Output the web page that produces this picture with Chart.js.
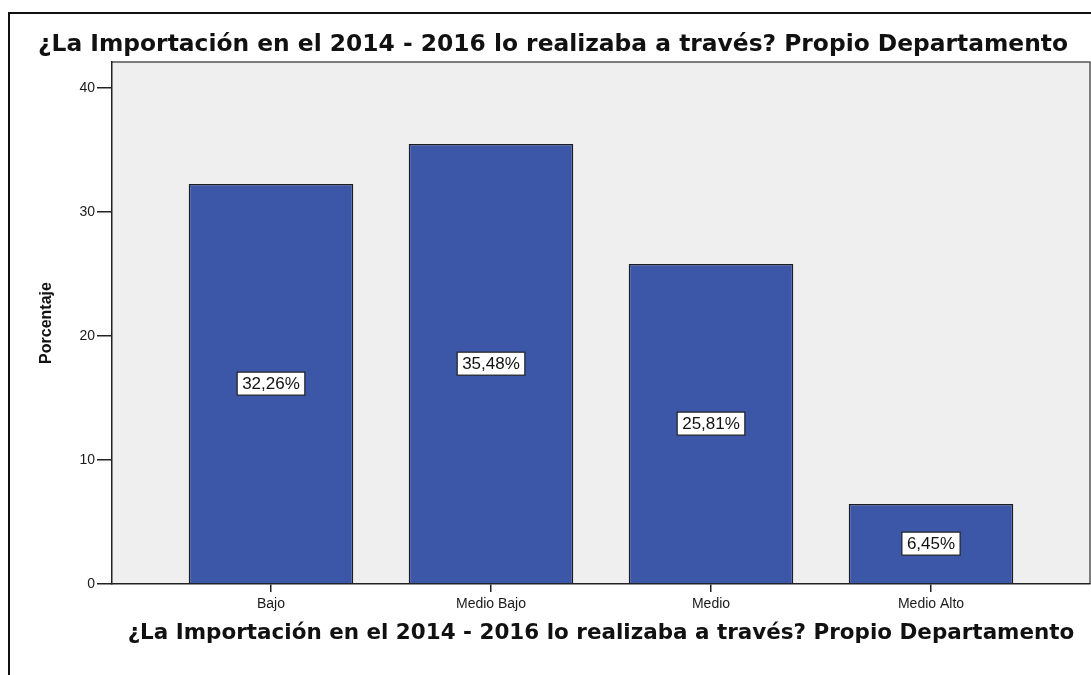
<!DOCTYPE html>
<html>
<head>
<meta charset="utf-8">
<script src="https://cdn.jsdelivr.net/npm/chart.js@4.4.1/dist/chart.umd.min.js"></script>
<style>
  html, body { margin: 0; padding: 0; background: #fff; }
  #wrap { width: 1091px; height: 675px; position: relative; }
</style>
</head>
<body>
<div id="wrap"><canvas id="chart"></canvas></div>
<script>
const categories = ['Bajo', 'Medio Bajo', 'Medio', 'Medio Alto'];
const values = [32.26, 35.48, 25.81, 6.45];
const valueLabels = ['32,26%', '35,48%', '25,81%', '6,45%'];
const yTicks = [0, 10, 20, 30, 40];
const titleText = '¿La Importación en el 2014 - 2016 lo realizaba a través? Propio Departamento';

// fit a font size so the text spans a given width
function fitSize(text, family, weight, width) {
  const c = document.createElement('canvas').getContext('2d');
  c.font = weight + ' 100px ' + family;
  return 100 * width / c.measureText(text).width;
}
const topTitleSize = fitSize(titleText, '"DejaVu Sans"', 'bold', 1030);
const xTitleSize = fitSize(titleText, '"DejaVu Sans"', 'bold', 947);

const spssFrame = {
  id: 'spssFrame',
  beforeDraw(chart) {
    const { ctx, chartArea: a } = chart;
    ctx.save();
    ctx.fillStyle = '#efefef';
    ctx.fillRect(a.left, a.top, a.right - a.left, a.bottom - a.top);
    ctx.strokeStyle = '#555';
    ctx.lineWidth = 1.5;
    ctx.beginPath();
    ctx.moveTo(a.left, a.top); ctx.lineTo(a.right, a.top); ctx.lineTo(a.right, a.bottom);
    ctx.stroke();
    // outer frame
    ctx.strokeStyle = '#111';
    ctx.lineWidth = 2;
    ctx.beginPath();
    ctx.moveTo(9, 676); ctx.lineTo(9, 13); ctx.lineTo(1092, 13);
    ctx.stroke();
    // title
    ctx.fillStyle = '#111';
    ctx.font = 'bold ' + topTitleSize.toFixed(2) + 'px "DejaVu Sans"';
    ctx.textAlign = 'center';
    ctx.textBaseline = 'middle';
    ctx.fillText(titleText, 553, 45);
    ctx.restore();
  },
  afterDatasetsDraw(chart) {
    const { ctx } = chart;
    const meta = chart.getDatasetMeta(0);
    ctx.save();
    ctx.font = '17px "Liberation Sans"';
    ctx.textAlign = 'center';
    ctx.textBaseline = 'middle';
    meta.data.forEach((bar, i) => {
      const cy = (bar.y + bar.base) / 2;
      const w = ctx.measureText(valueLabels[i]).width + 10;
      const h = 23;
      ctx.fillStyle = '#fff';
      ctx.fillRect(bar.x - w / 2, cy - h / 2, w, h);
      ctx.strokeStyle = '#222';
      ctx.lineWidth = 1.2;
      ctx.strokeRect(bar.x - w / 2, cy - h / 2, w, h);
      ctx.fillStyle = '#111';
      ctx.fillText(valueLabels[i], bar.x, cy + 1);
    });
    ctx.restore();
  }
};

new Chart(document.getElementById('chart'), {
  type: 'bar',
  data: {
    datasets: [{
      data: categories.map((c, i) => ({ x: i, y: values[i] })),
      backgroundColor: '#3c56a8',
      borderColor: '#1c1c24',
      borderWidth: 1.5,
      categoryPercentage: 1,
      barPercentage: 0.748
    }]
  },
  options: {
    responsive: true, maintainAspectRatio: false, animation: false,
    layout: { padding: { top: 62, right: 1, left: 0, bottom: 0 } },
    plugins: { legend: { display: false }, tooltip: { enabled: false } },
    scales: {
      x: {
        type: 'linear', min: -0.7227, max: 3.7227, offset: false,
        afterBuildTicks: s => { s.ticks = categories.map((c, i) => ({ value: i })); },
        afterFit: s => { s.height = 91; },
        ticks: { callback: v => categories[v], autoSkip: false, maxRotation: 0, padding: 4, color: '#1a1a1a', font: { family: 'Liberation Sans', size: 14 } },
        grid: { offset: false, drawOnChartArea: false, drawTicks: true, tickLength: 8, color: '#222', lineWidth: 1.5 },
        border: { display: true, color: '#222', width: 1.5 },
        title: { display: true, text: titleText, color: '#111', font: { family: 'DejaVu Sans', weight: 'bold', size: xTitleSize }, padding: { top: 0, bottom: 29 } }
      },
      y: {
        min: 0, max: 42.1,
        afterBuildTicks: s => { s.ticks = yTicks.map(v => ({ value: v })); },
        afterFit: s => { s.width = 112; },
        ticks: { padding: 2, color: '#1a1a1a', font: { family: 'Liberation Sans', size: 14 } },
        grid: { drawOnChartArea: false, drawTicks: true, tickLength: 15, color: '#222', lineWidth: 1.5 },
        border: { display: true, color: '#222', width: 1.5 },
        title: { display: true, text: 'Porcentaje', color: '#111', font: { family: 'Liberation Sans', weight: 'bold', size: 16 }, padding: { top: 37, bottom: 0 } }
      }
    }
  },
  plugins: [spssFrame]
});
</script>
</body>
</html>
